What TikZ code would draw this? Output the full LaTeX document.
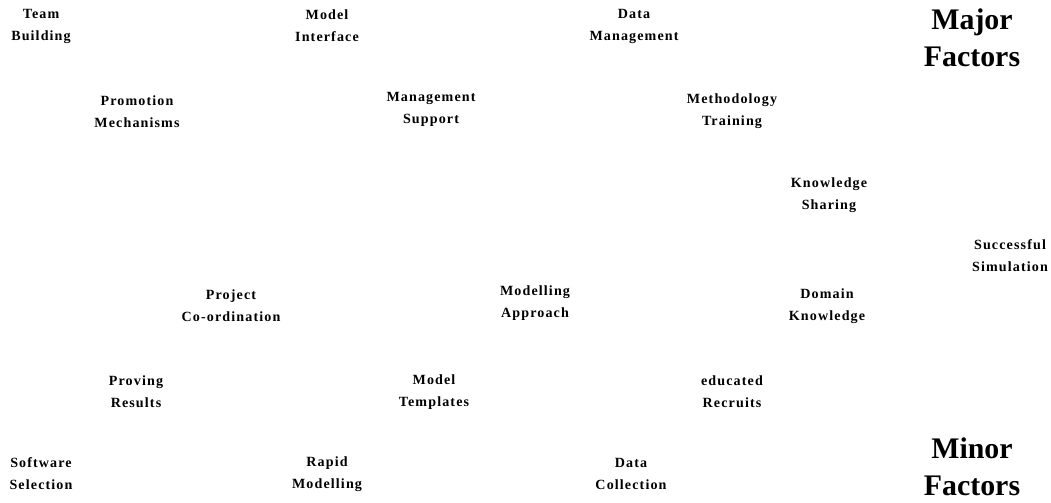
\documentclass[tikz,border=0pt]{standalone}
\usepackage{fontspec}
\setmainfont{Liberation Serif}
\newfontfamily\spacedfont[LetterSpace=8]{Liberation Serif}
\usepackage{tikz}
\usetikzlibrary{positioning}
\tikzset{
	factor/.style={align=center, inner sep=0pt, font=\spacedfont\bfseries\fontsize{8}{12.5}\selectfont},
	heading/.style={align=center, inner sep=0pt, font=\bfseries\fontsize{17}{21}\selectfont}
}
\begin{document}
\begin{tikzpicture}[on grid]
		\useasboundingbox (0,0) rectangle (21.02,-10.04);
		
		\node[factor] (team) at (0.82,-0.52) {Team\\Building};
		\node[factor, right=5.72cm of team] (interface) {Model\\Interface};
		\node[factor, right=6.14cm of interface] (datamgmt) {Data\\Management};
		\node[heading] (major) at (19.44,-0.76) {Major\\Factors};
		
		\node[factor] (promotion) at (2.74,-2.24) {Promotion\\Mechanisms};
		\node[factor] (support) at (8.62,-2.18) {Management\\Support};
		\node[factor] (training) at (14.64,-2.22) {Methodology\\Training};
		
		\node[factor] (sharing) at (16.58,-3.90) {Knowledge\\Sharing};
		\node[factor] (success) at (20.20,-5.12) {Successful\\Simulation};
		
		\node[factor] (coord) at (4.62,-6.12) {Project\\Co-ordination};
		\node[factor] (approach) at (10.70,-6.06) {Modelling\\Approach};
		\node[factor] (domain) at (16.54,-6.12) {Domain\\Knowledge};
		
		\node[factor] (proving) at (2.72,-7.84) {Proving\\Results};
		\node[factor, right=5.96cm of proving] (templates) {Model\\Templates};
		\node[factor, right=5.96cm of templates] (recruits) {educated\\Recruits};
		
		\node[factor] (software) at (0.82,-9.48) {Software\\Selection};
		\node[factor, right=5.72cm of software] (rapid) {Rapid\\Modelling};
		\node[factor, right=6.08cm of rapid] (collection) {Data\\Collection};
		\node[heading] (minor) at (19.44,-9.34) {Minor\\Factors};
	\end{tikzpicture}
\end{document}
